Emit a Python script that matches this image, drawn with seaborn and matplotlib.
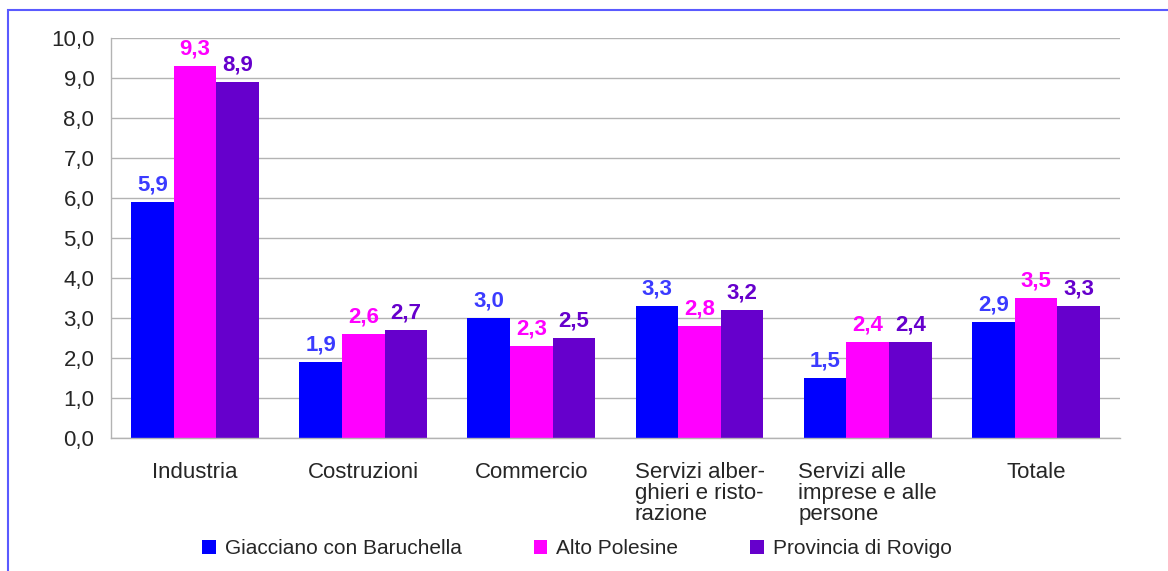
import matplotlib
matplotlib.use("Agg")
import matplotlib.pyplot as plt
from matplotlib.patches import Rectangle
import seaborn as sns
import pandas as pd

categories = ["Industria", "Costruzioni", "Commercio",
              "Servizi alber-\nghieri e risto-\nrazione",
              "Servizi alle\nimprese e alle\npersone", "Totale"]
series = ["Giacciano con Baruchella", "Alto Polesine", "Provincia di Rovigo"]
giacciano = [5.9, 1.9, 3.0, 3.3, 1.5, 2.9]
alto_polesine = [9.3, 2.6, 2.3, 2.8, 2.4, 3.5]
rovigo = [8.9, 2.7, 2.5, 3.2, 2.4, 3.3]
yticks = [0, 1, 2, 3, 4, 5, 6, 7, 8, 9, 10]

bar_colors = ["#0000ff", "#ff00ff", "#6600cc"]
label_colors = ["#3b3bff", "#ff00ff", "#6600cc"]

rows = []
for s, vals in zip(series, [giacciano, alto_polesine, rovigo]):
    for c, v in zip(categories, vals):
        rows.append({"cat": c, "serie": s, "val": v})
df = pd.DataFrame(rows)

sns.set_style("white")
plt.rcParams["font.family"] = ["Liberation Sans", "DejaVu Sans"]

fig = plt.figure(figsize=(11.68, 5.71), dpi=100)
ax = fig.add_axes([0.0950, 0.2329, 0.8639, 0.7006])

sns.barplot(data=df, x="cat", y="val", hue="serie", order=categories,
            hue_order=series, palette=bar_colors, width=0.76, gap=0,
            saturation=1, ax=ax, legend=True, linewidth=0)

for cont, col in zip(ax.containers, label_colors):
    ax.bar_label(cont, fmt=lambda v: f"{v:.1f}".replace(".", ","),
                 padding=5, color=col, fontsize=16, fontweight="bold")

ax.set_ylim(0, 10)
ax.set_xlim(-0.5, len(categories) - 0.5)
ax.set_yticks(yticks)
ax.set_yticklabels([f"{t:.1f}".replace(".", ",") for t in yticks], fontsize=16)
ax.set_xticks(range(len(categories)))
ax.set_xticklabels(categories, fontsize=16, multialignment="left",
                   linespacing=1.0)
ax.set_xticks([i - 0.5 for i in range(len(categories) + 1)], minor=True)
ax.tick_params(axis="x", which="major", length=0, pad=17)
ax.tick_params(axis="x", which="minor", length=10, color="#b3b3b3", width=1)
ax.tick_params(axis="y", length=10, color="#b3b3b3", width=1, pad=2)
for lab in ax.get_xticklabels():
    lab.set_verticalalignment("top")
ax.grid(axis="y", color="#b3b3b3", linewidth=1)
ax.set_axisbelow(True)
ax.set_xlabel("")
ax.set_ylabel("")
for side in ["top", "right"]:
    ax.spines[side].set_visible(False)
for side in ["left", "bottom"]:
    ax.spines[side].set_color("#b3b3b3")
    ax.spines[side].set_linewidth(1)

handles, labels = ax.get_legend_handles_labels()
ax.get_legend().remove()
fig.legend(handles, labels, loc="center", bbox_to_anchor=(0.494, 0.039),
           ncol=3, frameon=False, fontsize=15, handlelength=0.65,
           handleheight=0.65, handletextpad=0.43, columnspacing=3.45)

fig.patches.append(Rectangle((8 / 1168, -0.05), 1.2, 1 - 10 / 571 + 0.05,
                             transform=fig.transFigure, fill=False,
                             edgecolor="#5a5aff", linewidth=1.5, zorder=0))

fig.savefig("out.png", dpi=100)
